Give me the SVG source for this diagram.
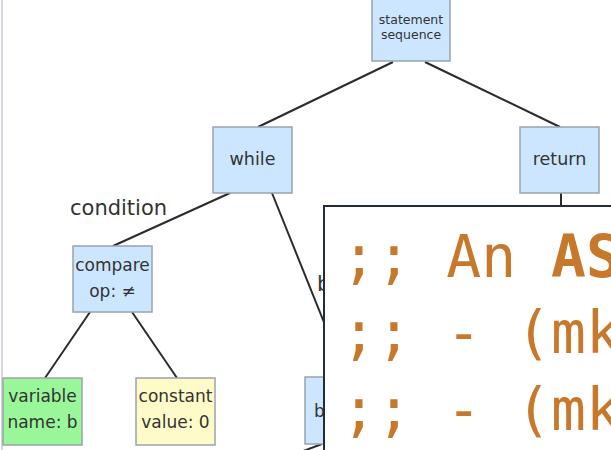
<svg xmlns="http://www.w3.org/2000/svg" width="611" height="450" viewBox="0 0 611 450">
  <style>
    .node { stroke: #9aa3ad; stroke-width: 1.5; }
    .blue { fill: #cce6ff; }
    .green { fill: #99f799; }
    .yellow { fill: #fffbc8; }
    .lbl { font-family: "DejaVu Sans", "Noto Sans", sans-serif; fill: #333; text-anchor: middle; }
    .edge { stroke: #2b2b2b; stroke-width: 2; fill: none; }
    .elabel { font-family: "DejaVu Sans", "Noto Sans", sans-serif; fill: #333; font-size: 21px; }
    .code { font-family: "DejaVu Sans Mono", "Liberation Mono", monospace; font-size: 58px; fill: #c8782a; }
  </style>

  <rect x="0" y="0" width="611" height="450" fill="#ffffff"/>
  <!-- page gutter on the left -->
  <line x1="2" y1="0" x2="2" y2="450" stroke="#d3d7de" stroke-width="2"/>

  <!-- connectors -->
  <g id="edges">
    <line class="edge" x1="393" y1="62" x2="258" y2="127"/>
    <line class="edge" x1="425" y1="62" x2="560" y2="127"/>
    <line class="edge" x1="230" y1="193" x2="113" y2="246"/>
    <line class="edge" x1="272" y1="193" x2="346" y2="377"/>
    <line class="edge" x1="90" y1="312" x2="45" y2="378"/>
    <line class="edge" x1="132" y1="312" x2="177" y2="378"/>
    <line class="edge" x1="561" y1="193" x2="561" y2="210" stroke-width="2.5"/>
    <line class="edge" x1="322" y1="444" x2="298" y2="453"/>
    <text class="elabel" x="70" y="215">condition</text>
    <text class="elabel" x="317" y="291">b</text>
  </g>

  <g id="seq">
    <rect class="node blue" x="372" y="-5" width="78" height="66"/>
    <text class="lbl" x="411" y="24" font-size="12.5">statement</text>
    <text class="lbl" x="411" y="39" font-size="12.5">sequence</text>
  </g>

  <g id="while">
    <rect class="node blue" x="213" y="127" width="79" height="66"/>
    <text class="lbl" x="252.5" y="165" font-size="17.5">while</text>
  </g>

  <g id="return">
    <rect class="node blue" x="520" y="127" width="79" height="66"/>
    <text class="lbl" x="559.5" y="165" font-size="17.5">return</text>
  </g>

  <g id="compare">
    <rect class="node blue" x="73" y="246" width="79" height="66"/>
    <text class="lbl" x="112.5" y="271" font-size="17">compare</text>
    <text class="lbl" x="112.5" y="297" font-size="17">op: ≠</text>
  </g>

  <g id="variable">
    <rect class="node green" x="3" y="378" width="79" height="67"/>
    <text class="lbl" x="42.5" y="402" font-size="17">variable</text>
    <text class="lbl" x="42.5" y="428" font-size="17">name: b</text>
  </g>

  <g id="constant">
    <rect class="node yellow" x="136" y="378" width="79" height="67"/>
    <text class="lbl" x="175.5" y="402" font-size="17">constant</text>
    <text class="lbl" x="175.5" y="428" font-size="17">value: 0</text>
  </g>

  <g id="body">
    <rect class="node blue" x="305" y="377" width="79" height="67"/>
    <text class="lbl" x="314" y="417" font-size="17" style="text-anchor:start">b</text>
  </g>

  <!-- code panel laid over the tree -->
  <g id="code-panel">
    <rect x="324" y="206" width="320" height="270" fill="#ffffff" stroke="#232b36" stroke-width="2"/>
    <text class="code" x="341.5" y="277" xml:space="preserve">;; An <tspan font-weight="bold">AS</tspan></text>
    <text class="code" x="341.5" y="353" xml:space="preserve">;; - (mk</text>
    <text class="code" x="341.5" y="430" xml:space="preserve">;; - (mk</text>
  </g>
</svg>
